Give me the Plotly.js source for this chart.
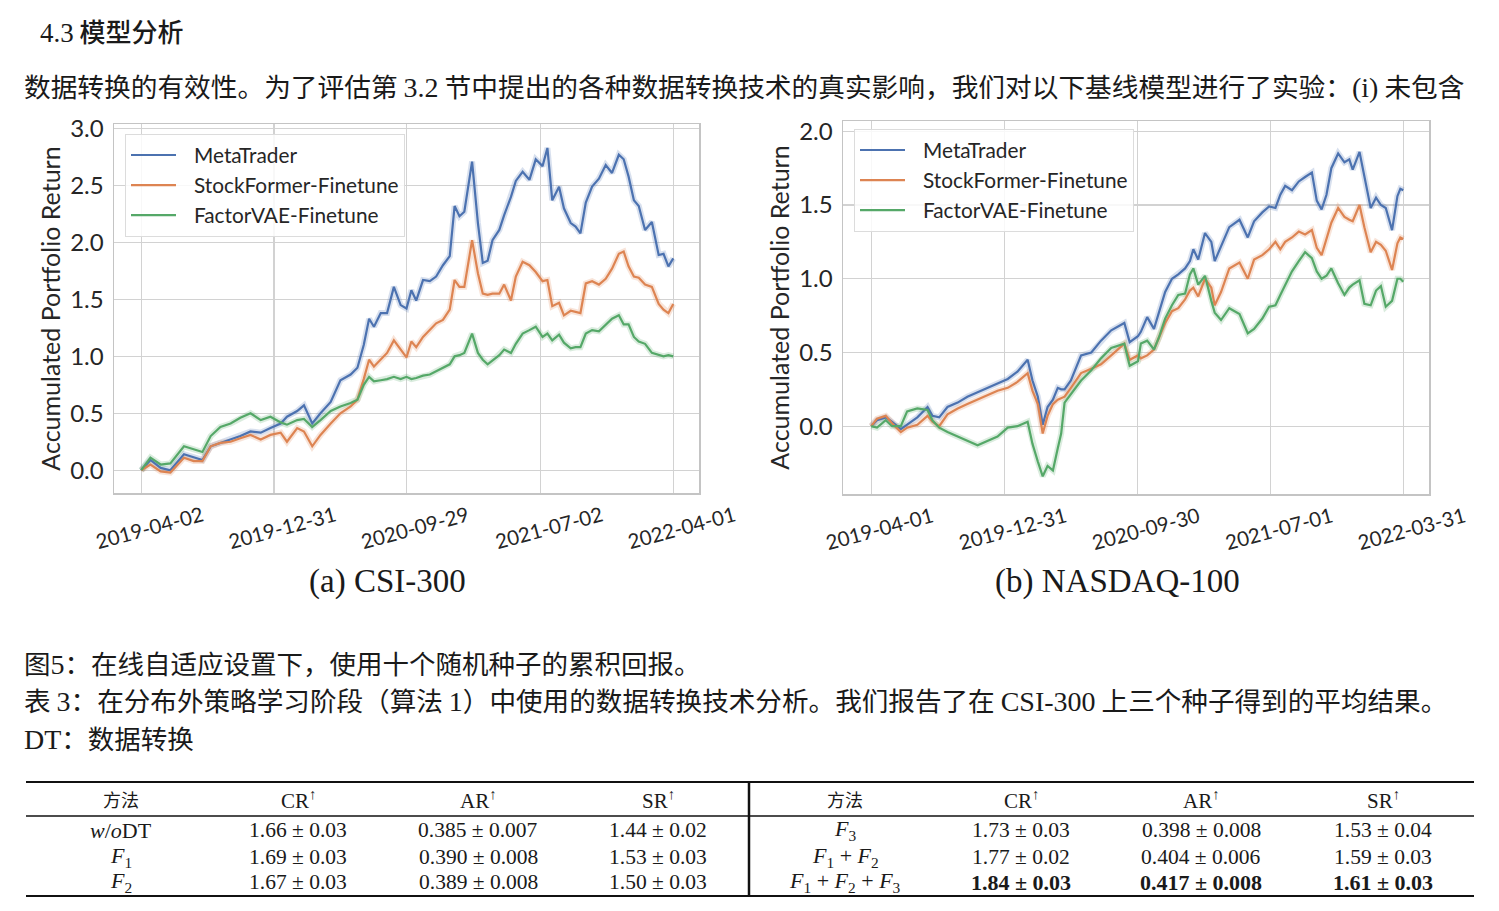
<!DOCTYPE html>
<html><head><meta charset="utf-8">
<script src="https://cdn.plot.ly/plotly-3.0.1.min.js"></script>
<style>html,body{margin:0;padding:0;background:#fff;}#page{width:1499px;height:911px;}</style>
</head><body><div id="page"></div>
<script>
const W = 1499, H = 911;
const fx = p => p / W, fy = p => 1 - p / H;

// ---------- chart data ----------
const seriesNames = ['MetaTrader', 'StockFormer-Finetune', 'FactorVAE-Finetune'];
const seriesColors = ['#4c72b0', '#dd8452', '#55a868'];
const bandColors = ['rgba(76,114,176,0.22)', 'rgba(221,132,82,0.22)', 'rgba(85,168,104,0.22)'];

const csiDates = ['2019-04-02','2019-04-21','2019-05-12','2019-06-01','2019-06-29','2019-07-19','2019-08-06','2019-08-23','2019-09-12','2019-10-03','2019-10-23','2019-11-13','2019-12-04','2019-12-24','2020-01-14','2020-01-27','2020-02-17','2020-03-02','2020-03-19','2020-04-05','2020-04-26','2020-05-16','2020-06-06','2020-06-20','2020-07-03','2020-07-14','2020-07-24','2020-08-07','2020-08-20','2020-09-03','2020-09-17',
'2020-09-29','2020-10-09','2020-10-19','2020-11-02','2020-11-16','2020-11-29','2020-12-13','2020-12-27','2021-01-06','2021-01-16','2021-01-26','2021-02-11','2021-02-23','2021-03-05','2021-03-15','2021-03-25','2021-04-08','2021-04-18','2021-05-02','2021-05-12','2021-05-26','2021-06-09','2021-06-22','2021-07-06','2021-07-16','2021-07-26','2021-08-09','2021-08-19','2021-09-02','2021-09-12','2021-09-22','2021-10-03','2021-10-16','2021-10-30','2021-11-13','2021-11-26','2021-12-10','2021-12-20','2021-12-30','2022-01-10','2022-01-20','2022-02-02','2022-02-16','2022-03-02','2022-03-12','2022-03-22','2022-04-01'];
const csiMetaTrader = [0,0.09,0.02,0.00,0.14,0.11,0.09,0.21,0.24,0.27,0.30,0.34,0.33,0.37,0.41,0.47,0.52,0.57,0.41,0.50,0.60,0.79,0.84,0.90,1.10,1.33,1.26,1.38,1.38,1.61,1.45,
1.42,1.58,1.49,1.67,1.66,1.70,1.80,1.88,2.32,2.23,2.27,2.71,2.17,1.82,1.84,2.02,2.11,2.24,2.40,2.54,2.62,2.55,2.73,2.67,2.83,2.37,2.49,2.30,2.17,2.14,2.08,2.35,2.49,2.56,2.68,2.61,2.77,2.73,2.58,2.37,2.32,2.11,2.18,1.89,1.90,1.79,1.86];
const csiStockFormer = [0,0.05,-0.01,-0.02,0.11,0.08,0.08,0.21,0.24,0.25,0.28,0.31,0.27,0.31,0.33,0.25,0.37,0.34,0.21,0.31,0.41,0.50,0.56,0.62,0.80,0.97,0.91,0.97,1.03,1.14,1.06,
0.99,1.13,1.08,1.17,1.23,1.29,1.32,1.41,1.67,1.61,1.61,2.02,1.73,1.55,1.54,1.55,1.55,1.63,1.49,1.70,1.83,1.80,1.74,1.66,1.67,1.44,1.47,1.36,1.40,1.39,1.38,1.64,1.66,1.63,1.68,1.77,1.90,1.92,1.79,1.70,1.69,1.63,1.61,1.46,1.41,1.38,1.46];
const csiFactorVAE = [0,0.11,0.05,0.06,0.21,0.18,0.16,0.30,0.38,0.41,0.46,0.50,0.44,0.47,0.42,0.40,0.44,0.45,0.38,0.44,0.52,0.56,0.59,0.62,0.75,0.82,0.78,0.79,0.80,0.82,0.80,
0.82,0.80,0.81,0.83,0.84,0.87,0.90,0.93,1.00,1.01,1.03,1.20,1.03,0.97,0.93,0.96,1.01,1.06,1.03,1.11,1.20,1.23,1.26,1.17,1.20,1.14,1.19,1.12,1.07,1.08,1.08,1.20,1.23,1.22,1.28,1.33,1.36,1.28,1.28,1.17,1.13,1.11,1.03,1.01,1.00,1.01,1.00];

const ndxDates = ['2019-04-01','2019-04-13','2019-05-01','2019-05-14','2019-06-01','2019-06-14','2019-07-05','2019-07-26','2019-08-05','2019-08-19','2019-09-05','2019-09-26','2019-10-16','2019-11-06','2019-11-26','2019-12-17','2020-01-07','2020-01-27','2020-02-17','2020-02-27','2020-03-09','2020-03-19','2020-03-29','2020-04-09','2020-04-19','2020-04-26','2020-05-03','2020-05-16','2020-06-06','2020-06-27','2020-07-17','2020-08-07','2020-09-03','2020-09-14','2020-10-01',
'2020-10-07','2020-10-20','2020-11-03','2020-11-13','2020-11-26','2020-12-10','2020-12-23','2021-01-06','2021-01-16','2021-01-23','2021-02-02','2021-02-16','2021-03-01','2021-03-08','2021-03-21','2021-04-07','2021-04-28','2021-05-15','2021-05-28','2021-06-14','2021-06-28','2021-07-11','2021-07-21','2021-07-31','2021-08-14','2021-08-28','2021-09-10','2021-09-24','2021-10-04','2021-10-14','2021-10-24','2021-11-03','2021-11-17','2021-11-30','2021-12-10','2021-12-17','2021-12-31','2022-01-10','2022-01-23','2022-02-03','2022-02-13','2022-02-23','2022-03-08','2022-03-19','2022-03-25','2022-03-31'];
const ndxMetaTrader = [0,0.04,0.06,0.03,-0.02,0.01,0.06,0.13,0.07,0.06,0.13,0.16,0.20,0.23,0.26,0.29,0.32,0.37,0.45,0.31,0.20,0.01,0.13,0.18,0.26,0.25,0.25,0.31,0.48,0.50,0.58,0.65,0.70,0.57,0.61,
0.64,0.74,0.66,0.77,0.91,1.00,1.03,1.07,1.12,1.20,1.13,1.31,1.25,1.12,1.22,1.35,1.40,1.28,1.39,1.45,1.49,1.48,1.57,1.63,1.60,1.66,1.69,1.72,1.53,1.47,1.57,1.75,1.85,1.79,1.81,1.74,1.86,1.69,1.48,1.55,1.50,1.48,1.33,1.56,1.61,1.60];
const ndxStockFormer = [0,0.05,0.07,0.02,-0.04,-0.01,0.01,0.07,0.03,0.00,0.08,0.12,0.15,0.18,0.21,0.24,0.26,0.30,0.36,0.24,0.15,-0.05,0.07,0.15,0.18,0.19,0.20,0.26,0.36,0.39,0.42,0.48,0.56,0.45,0.48,
0.46,0.48,0.52,0.60,0.70,0.78,0.80,0.86,0.92,0.94,0.88,1.00,0.94,0.82,0.91,1.07,1.11,1.00,1.13,1.16,1.20,1.25,1.20,1.25,1.28,1.32,1.30,1.33,1.21,1.16,1.27,1.38,1.48,1.42,1.40,1.39,1.50,1.35,1.18,1.25,1.23,1.19,1.06,1.24,1.28,1.27];
const ndxFactorVAE = [0,-0.01,0.04,0.00,0.00,0.10,0.12,0.11,0.04,-0.01,-0.04,-0.07,-0.10,-0.13,-0.10,-0.07,-0.01,0.00,0.03,-0.12,-0.24,-0.34,-0.27,-0.30,-0.15,-0.05,0.16,0.22,0.31,0.38,0.46,0.53,0.56,0.41,0.44,
0.56,0.58,0.52,0.60,0.73,0.82,0.89,0.90,1.03,1.07,0.96,1.02,0.85,0.77,0.72,0.80,0.76,0.63,0.66,0.73,0.81,0.82,0.89,0.96,1.05,1.12,1.18,1.14,1.05,1.00,1.02,1.07,0.97,0.89,0.94,0.96,0.99,0.83,0.82,0.92,0.95,0.81,0.85,1.00,1.00,0.98];

const csiTicks = ['2019-04-02','2019-12-31','2020-09-29','2021-07-02','2022-04-01'];
const ndxTicks = ['2019-04-01','2019-12-31','2020-09-30','2021-07-01','2022-03-31'];
const csiYTicks = [0, 0.5, 1.0, 1.5, 2.0, 2.5, 3.0];
const ndxYTicks = [0, 0.5, 1.0, 1.5, 2.0];
const yTitle = 'Accumulated Portfolio Return';
const subCaptions = ['(a) CSI-300', '(b) NASDAQ-100'];

// ---------- table data ----------
const tableHeader = ['方法', 'CR<sup>↑</sup>', 'AR<sup>↑</sup>', 'SR<sup>↑</sup>'];
const methods = ['<i>w</i>/<i>o</i>DT', '<i>F</i><sub>1</sub>', '<i>F</i><sub>2</sub>', '<i>F</i><sub>3</sub>', '<i>F</i><sub>1</sub> + <i>F</i><sub>2</sub>', '<i>F</i><sub>1</sub> + <i>F</i><sub>2</sub> + <i>F</i><sub>3</sub>'];
const crMean = [1.66, 1.69, 1.67, 1.73, 1.77, 1.84];
const crStd  = [0.03, 0.03, 0.03, 0.03, 0.02, 0.03];
const arMean = [0.385, 0.390, 0.389, 0.398, 0.404, 0.417];
const arStd  = [0.007, 0.008, 0.008, 0.008, 0.006, 0.008];
const srMean = [1.44, 1.53, 1.50, 1.53, 1.59, 1.61];
const srStd  = [0.02, 0.03, 0.03, 0.04, 0.03, 0.03];
const boldRow = 5;

// ---------- text ----------
const SERIF = 'Liberation Serif, DejaVu Serif, serif';
const CJK = 'Noto Sans CJK SC, Noto Sans, sans-serif';
const CHARTF = 'Lato, Open Sans, sans-serif';
const heading = '<span style="font-family:Liberation Serif;font-size:27px">4.3</span> 模型分析';
const paraLine = '数据转换的有效性。为了评估第 <span style="font-family:Liberation Serif;font-size:28px">3.2</span> 节中提出的各种数据转换技术的真实影响，我们对以下基线模型进行了实验：<span style="font-family:Liberation Serif;font-size:28px">(i)</span> 未包含';
const figCaption = '图<span style="font-family:Liberation Serif;font-size:28px">5</span>：在线自适应设置下，使用十个随机种子的累积回报。';
const tabCaption = '表 <span style="font-family:Liberation Serif;font-size:28px">3</span>：在分布外策略学习阶段（算法 <span style="font-family:Liberation Serif;font-size:28px">1</span>）中使用的数据转换技术分析。我们报告了在 <span style="font-family:Liberation Serif;font-size:28px">CSI-300</span> 上三个种子得到的平均结果。';
const dtCaption = '<span style="font-family:Liberation Serif;font-size:28px">DT</span>：数据转换';

// ---------- traces ----------
const legendPad = '\u2002\u2009';
const traces = [];
function addChart(dates, ys, xa, ya, legendName) {
  ys.forEach((y, i) => {
    traces.push({x: dates, y: y, xaxis: xa, yaxis: ya, type: 'scatter', mode: 'lines',
      line: {color: bandColors[i], width: 6}, showlegend: false, hoverinfo: 'skip'});
  });
  ys.forEach((y, i) => {
    traces.push({x: dates, y: y, xaxis: xa, yaxis: ya, type: 'scatter', mode: 'lines', name: legendPad + seriesNames[i],
      line: {color: seriesColors[i], width: 2.2}, legend: legendName});
  });
}
addChart(csiDates, [csiMetaTrader, csiStockFormer, csiFactorVAE], 'x', 'y', 'legend');
addChart(ndxDates, [ndxMetaTrader, ndxStockFormer, ndxFactorVAE], 'x2', 'y2', 'legend2');

function xAxis(dom, range, ticks, anchor) {
  return {domain: dom, anchor: anchor, type: 'date', range: range, tickvals: ticks, ticktext: ticks,
    tickangle: -15, ticklabelshift: 61, ticklabelstandoff: 2, ticks: '',
    showgrid: true, gridcolor: '#d2d2d2', gridwidth: 1.3, zeroline: false,
    showline: true, mirror: true, linecolor: '#c4c4c4', linewidth: 1.5,
    tickfont: {family: CHARTF, size: 20.5, color: '#262626'}, automargin: false};
}
function yAxis(dom, range, ticks, anchor) {
  return {domain: dom, anchor: anchor, range: range, tickvals: ticks, tickformat: '.1f', ticks: '',
    ticklabelstandoff: 4,
    showgrid: true, gridcolor: '#d2d2d2', gridwidth: 1.3, zeroline: false,
    showline: true, mirror: true, linecolor: '#c4c4c4', linewidth: 1.5,
    tickfont: {family: CHARTF, size: 24, color: '#262626'}, automargin: false,
    title: {text: yTitle, font: {family: CHARTF, size: 25, color: '#262626'}, standoff: 2}};
}

const ann = [];
function txt(text, x, y, size, family, opts) {
  ann.push(Object.assign({text: text, x: fx(x), y: fy(y), xref: 'paper', yref: 'paper', showarrow: false,
    xanchor: 'left', yanchor: 'middle', font: {size: size, family: family, color: '#1a1a1a'}}, opts || {}));
}
txt(heading, 38, 31, 26, CJK, {font: {size: 26, family: CJK, color: '#1a1a1a', weight: 500}});
txt(paraLine, 22, 86, 26.7, CJK);
txt(subCaptions[0], 387, 581, 33, SERIF, {xanchor: 'center'});
txt(subCaptions[1], 1117, 581, 33, SERIF, {xanchor: 'center'});
txt(figCaption, 22, 662, 26.5, CJK);
txt(tabCaption, 22, 699, 26.6, CJK);
txt(dtCaption, 22, 737, 26.5, CJK);

// table
const colL = [121, 298, 478, 658], colR = [845, 1021, 1201, 1383];
const rowY = [830, 857, 882];
[colL, colR].forEach(cols => {
  tableHeader.forEach((h, j) => txt(h, cols[j], 799, j === 0 ? 18 : 21, j === 0 ? CJK : SERIF, {xanchor: 'center'}));
});
methods.forEach((m, i) => {
  const cols = i < 3 ? colL : colR;
  const y = rowY[i % 3];
  const b = i === boldRow;
  const f = s => b ? '<b>' + s + '</b>' : s;
  const sz = b ? 22 : 21.5;
  txt(m, cols[0], y, 22, SERIF, {xanchor: 'center'});
  txt(f(crMean[i].toFixed(2) + ' ± ' + crStd[i].toFixed(2)), cols[1], y, sz, SERIF, {xanchor: 'center'});
  txt(f(arMean[i].toFixed(3) + ' ± ' + arStd[i].toFixed(3)), cols[2], y, sz, SERIF, {xanchor: 'center'});
  txt(f(srMean[i].toFixed(2) + ' ± ' + srStd[i].toFixed(2)), cols[3], y, sz, SERIF, {xanchor: 'center'});
});

const shapes = [
  {type: 'line', xref: 'paper', yref: 'paper', x0: fx(26), x1: fx(1474), y0: fy(782), y1: fy(782), line: {color: '#111', width: 2}},
  {type: 'line', xref: 'paper', yref: 'paper', x0: fx(26), x1: fx(1474), y0: fy(816), y1: fy(816), line: {color: '#111', width: 1.3}},
  {type: 'line', xref: 'paper', yref: 'paper', x0: fx(26), x1: fx(1474), y0: fy(896), y1: fy(896), line: {color: '#111', width: 2}},
  {type: 'line', xref: 'paper', yref: 'paper', x0: fx(749), x1: fx(749), y0: fy(782), y1: fy(896), line: {color: '#111', width: 2.5}}
];

const legendBase = {xanchor: 'left', yanchor: 'top', bgcolor: 'rgba(255,255,255,0.85)', bordercolor: '#dcdcdc', borderwidth: 1,
  font: {family: CHARTF, size: 20.8, color: '#262626'}, itemwidth: 45, tracegroupgap: 0};

const layout = {
  width: W, height: H, margin: {l: 0, r: 0, t: 0, b: 0}, paper_bgcolor: '#fff', plot_bgcolor: '#fff',
  showlegend: true,
  xaxis: xAxis([fx(114), fx(699)], ['2019-02-05', '2022-05-24'], csiTicks, 'y'),
  yaxis: yAxis([fy(493), fy(124)], [-0.2, 3.04], csiYTicks, 'x'),
  xaxis2: xAxis([fx(843), fx(1429)], ['2019-02-02', '2022-05-23'], ndxTicks, 'y2'),
  yaxis2: yAxis([fy(494), fy(121)], [-0.46, 2.07], ndxYTicks, 'x2'),
  legend: Object.assign({x: fx(125), y: fy(134)}, legendBase),
  legend2: Object.assign({x: fx(854), y: fy(129)}, legendBase),
  annotations: ann, shapes: shapes
};

Plotly.newPlot('page', traces, layout, {displayModeBar: false, staticPlot: true});
</script></body></html>
